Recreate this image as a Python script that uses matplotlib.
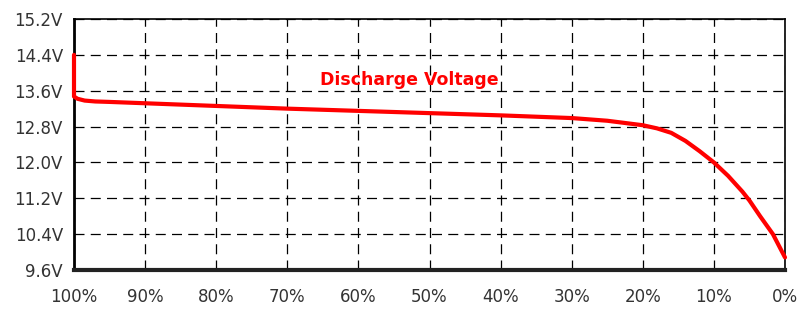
import matplotlib
matplotlib.use("Agg")
import matplotlib.pyplot as plt

soc = [100, 100, 99.5, 98.5, 97, 95, 90, 80, 70, 60, 50, 40, 30, 25, 20, 18, 16, 14, 12, 10, 8, 6, 5, 3.5, 1.7, 0]
volts = [14.4, 13.47, 13.42, 13.38, 13.36, 13.35, 13.32, 13.26, 13.20, 13.15, 13.10, 13.05, 12.99, 12.93, 12.83, 12.76, 12.66, 12.48, 12.25, 12.00, 11.70, 11.35, 11.15, 10.80, 10.40, 9.88]

yticks = [9.6, 10.4, 11.2, 12.0, 12.8, 13.6, 14.4, 15.2]
ytick_labels = ["9.6V", "10.4V", "11.2V", "12.0V", "12.8V", "13.6V", "14.4V", "15.2V"]
xticks = [100, 90, 80, 70, 60, 50, 40, 30, 20, 10, 0]
xtick_labels = ["100%", "90%", "80%", "70%", "60%", "50%", "40%", "30%", "20%", "10%", "0%"]
title = "Discharge Voltage"

fig = plt.figure(figsize=(7.99, 3.09), dpi=100)
ax = fig.add_axes([74/799, 1-270/309, (785-74)/799, (270-19)/309])

ax.plot(soc, volts, color="#ff0000", lw=3.0, solid_capstyle="round",
        solid_joinstyle="round", zorder=3, clip_on=False)

ax.set_xlim(100, 0)
ax.set_ylim(9.6, 15.2)
ax.set_xticks(xticks)
ax.set_xticklabels(xtick_labels)
ax.set_yticks(yticks)
ax.set_yticklabels(ytick_labels)
ax.tick_params(axis="both", length=0, labelsize=12, colors="#333333")
ax.tick_params(axis="x", pad=13)
ax.tick_params(axis="y", pad=8)

ax.grid(True, color="black", lw=0.9, linestyle=(0, (8, 5)))
for s in ["left", "right", "top"]:
    ax.spines[s].set_color("black")
ax.spines["left"].set_linewidth(2.0)
ax.spines["right"].set_linewidth(1.2)
ax.spines["top"].set_linewidth(1.2)
ax.spines["bottom"].set_linewidth(3.0)
ax.spines["bottom"].set_color("#222222")

ax.text(0.472, 0.755, title, transform=ax.transAxes, color="#ff0000", fontsize=12.5,
        fontweight="bold", ha="center", va="center", zorder=4)

fig.savefig("out.png", dpi=100)
